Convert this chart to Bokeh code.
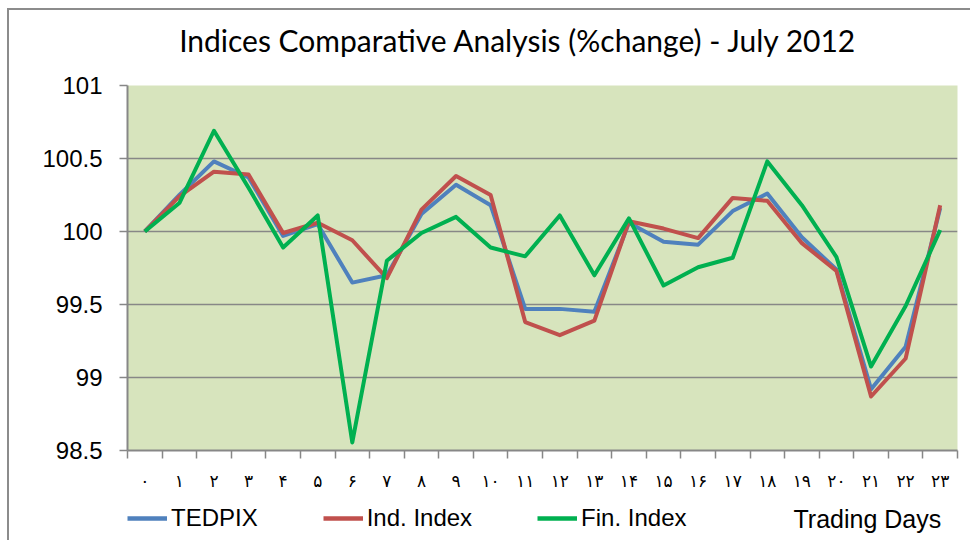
from bokeh.plotting import figure
from bokeh.layouts import column
from bokeh.models import FixedTicker, Legend, LegendItem, Range1d, Label
from bokeh.embed import file_html
from bokeh.resources import INLINE

# ---- data ----
days = list(range(24))
day_labels = ["۰", "۱", "۲", "۳", "۴", "۵", "۶", "۷", "۸", "۹", "۱۰", "۱۱",
              "۱۲", "۱۳", "۱۴", "۱۵", "۱۶", "۱۷", "۱۸", "۱۹", "۲۰", "۲۱", "۲۲", "۲۳"]
tedpix = [100.00, 100.25, 100.48, 100.37, 99.97, 100.05, 99.65, 99.70, 100.12, 100.32, 100.18, 99.47,
          99.47, 99.45, 100.06, 99.93, 99.91, 100.14, 100.26, 99.96, 99.74, 98.92, 99.21, 100.16]
ind_index = [100.00, 100.24, 100.41, 100.39, 99.99, 100.06, 99.94, 99.68, 100.15, 100.38, 100.25, 99.38,
             99.29, 99.39, 100.07, 100.02, 99.955, 100.23, 100.21, 99.92, 99.73, 98.87, 99.13, 100.18]
fin_index = [100.00, 100.195, 100.69, 100.30, 99.89, 100.11, 98.555, 99.80, 99.99, 100.10, 99.89, 99.83,
             100.11, 99.70, 100.09, 99.63, 99.755, 99.82, 100.48, 100.18, 99.825, 99.075, 99.49, 100.01]
y_ticks = [98.5, 99, 99.5, 100, 100.5, 101]
y_tick_labels = ["98.5", "99", "99.5", "100", "100.5", "101"]
series_names = ["TEDPIX", "Ind. Index", "Fin. Index"]
series_values = [tedpix, ind_index, fin_index]

title_text = "Indices Comparative Analysis (%change) - July 2012"
x_title = "Trading Days"

GRAY = "#878787"
COLORS = ["#4F81BD", "#C0504D", "#00B050"]
OX = 9                       # canvas left edge in page pixels (7px margin + 2px border)
W = 961
LB, RB = 118, 13             # left / right borders shared by all three strips
FX0, FX1 = OX + LB, OX + W - RB  # frame edges in page pixels

# ---- title strip ----
TOP_H = 57
p_top = figure(width=W, height=TOP_H, x_range=Range1d(FX0, FX1), y_range=Range1d(0, TOP_H),
               x_axis_type=None, y_axis_type=None, min_border=0,
               min_border_left=LB, min_border_right=RB, outline_line_color=None,
               toolbar_location=None, output_backend="svg", background_fill_color="white")
p_top.add_layout(Label(x=518, y=28, text=title_text, text_align="center", text_baseline="alphabetic",
                       text_font="Lato", text_font_size="30px", text_color="black"))

# ---- main chart ----
p = figure(width=W, height=428,
           x_range=Range1d(-0.5, 23.5), y_range=Range1d(98.5, 101),
           output_backend="svg", toolbar_location=None,
           min_border_left=LB, min_border_top=18, min_border_right=RB, min_border_bottom=45,
           background_fill_color="#D7E4BD", border_fill_color="white",
           outline_line_color=None)

for vals, col in zip(series_values, COLORS):
    p.line(days, vals, line_color=col, line_width=4, line_join="round")

# x axis
p.xaxis.ticker = FixedTicker(ticks=days, minor_ticks=[d - 0.5 for d in days] + [days[-1] + 0.5])
p.xaxis.major_label_overrides = {d: lab for d, lab in zip(days, day_labels)}
p.xaxis.major_tick_out = 0
p.xaxis.major_tick_in = 0
p.xaxis.minor_tick_out = 8
p.xaxis.minor_tick_in = 0
p.xaxis.minor_tick_line_color = GRAY
p.xaxis.minor_tick_line_width = 1.5
p.xaxis.axis_line_color = GRAY
p.xaxis.axis_line_width = 2
p.xaxis.major_label_text_font = "DejaVu Sans"
p.xaxis.major_label_text_font_size = "17px"
p.xaxis.major_label_text_color = "black"
p.xaxis.major_label_standoff = 12
p.xgrid.visible = False

# y axis
p.yaxis.ticker = FixedTicker(ticks=y_ticks)
p.yaxis.major_label_overrides = {t: s for t, s in zip(y_ticks, y_tick_labels)}
p.yaxis.major_tick_out = 8
p.yaxis.major_tick_in = 0
p.yaxis.minor_tick_line_color = None
p.yaxis.major_tick_line_color = GRAY
p.yaxis.major_tick_line_width = 1.5
p.yaxis.axis_line_color = GRAY
p.yaxis.axis_line_width = 2
p.yaxis.major_label_text_font = "Liberation Sans"
p.yaxis.major_label_text_font_size = "24px"
p.yaxis.major_label_text_color = "black"
p.yaxis.major_label_standoff = 17
p.ygrid.grid_line_color = GRAY
p.ygrid.grid_line_width = 1.5

# ---- legend strip ----
BOT_H = 45
p_leg = figure(width=W, height=BOT_H, x_range=Range1d(FX0, FX1), y_range=Range1d(0, BOT_H),
               x_axis_type=None, y_axis_type=None, min_border=0,
               min_border_left=LB, min_border_right=RB, outline_line_color=None,
               toolbar_location=None, output_backend="svg", background_fill_color="white")
items = []
for name, vals, col in zip(series_names, series_values, COLORS):
    # series drawn far outside this strip's view; only its legend swatch shows
    r = p_leg.line(days, vals, line_color=col, line_width=4.5)
    items.append(LegendItem(label=name, renderers=[r]))
legend = Legend(items=items, orientation="horizontal", location=(0, 8),
                glyph_width=40, glyph_height=20, label_standoff=4, spacing=65,
                padding=0, margin=0, border_line_color=None, background_fill_alpha=0,
                label_text_font="Liberation Sans", label_text_font_size="24px",
                label_text_color="black")
p_leg.add_layout(legend)
p_leg.add_layout(Label(x=793, y=22, text=x_title, text_align="left", text_baseline="middle",
                       text_font="Liberation Sans", text_font_size="25px", text_color="black"))

layout = column(p_top, p, p_leg, spacing=0,
                styles={"border-left": "2px solid #8c8c8c", "border-top": "2px solid #8c8c8c",
                        "margin-left": "7px", "margin-top": "8px"})

open("out.html", "w").write(file_html(layout, INLINE))
